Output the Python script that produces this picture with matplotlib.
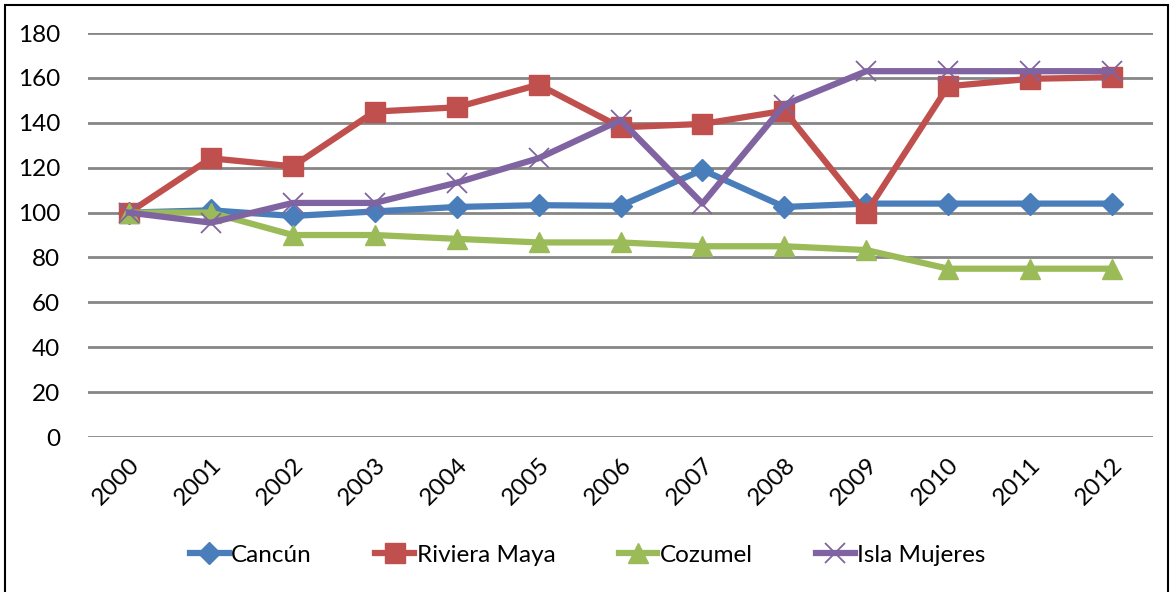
import matplotlib.pyplot as plt
from matplotlib.patches import Rectangle

plt.rcParams['font.family'] = ['Lato', 'DejaVu Sans']

years = ['2000', '2001', '2002', '2003', '2004', '2005', '2006',
         '2007', '2008', '2009', '2010', '2011', '2012']
cancun = [100, 101, 98.5, 100.5, 102.5, 103.3, 103, 119, 102.5, 104, 104, 104, 104]
riviera_maya = [100, 124.2, 120.6, 145, 146.9, 157, 138, 139.5, 145.4, 100, 156.3, 159.6, 160.3]
cozumel = [100, 100, 90, 90, 88.3, 86.7, 86.7, 85, 85, 83.3, 75, 75, 75]
isla_mujeres = [100, 95.5, 104.3, 104.3, 113.3, 124.2, 141.2, 104, 148, 163, 163, 163, 163]

fig = plt.figure(figsize=(11.71, 5.92), dpi=100)
ax = fig.add_axes([88 / 1171, 0.2618, 1065 / 1171, 0.6824])

x = range(len(years))
ax.plot(x, cancun, color='#4A7EBB', lw=4.5, marker='D', ms=11,
        label='Cancún', zorder=3)
ax.plot(x, riviera_maya, color='#C0504D', lw=4.5, marker='s', ms=15,
        label='Riviera Maya', zorder=3)
ax.plot(x, cozumel, color='#9BBB59', lw=4.5, marker='^', ms=15,
        label='Cozumel', zorder=3)
ax.plot(x, isla_mujeres, color='#8064A2', lw=4.5, marker='x', ms=14, mew=1.3,
        label='Isla Mujeres', zorder=4)

ax.set_xlim(-0.5, len(years) - 0.5)
ax.set_ylim(0, 180)
ax.set_yticks(range(0, 181, 20))
ax.set_xticks(list(x))
ax.set_xticklabels(years, rotation=45, ha='right', rotation_mode='anchor')
ax.tick_params(axis='both', length=0, labelsize=17.5)
ax.tick_params(axis='y', pad=20)
ax.tick_params(axis='x', pad=12)
ax.yaxis.grid(True, color='#868686', lw=2)
ax.set_axisbelow(True)
for s in ax.spines.values():
    s.set_visible(False)

fig.legend(loc='center', bbox_to_anchor=(0.502, 0.0625), ncol=4, frameon=False,
           fontsize=17.5, handlelength=1.6, handletextpad=0.1, columnspacing=2.6)

# outer chart border
fig.patches.append(Rectangle((5 / 1171, -0.05), 1163 / 1171, 1.05 - 5 / 592,
                             transform=fig.transFigure, fill=False,
                             ec='black', lw=1.5))

fig.savefig('out.png', dpi=100)
